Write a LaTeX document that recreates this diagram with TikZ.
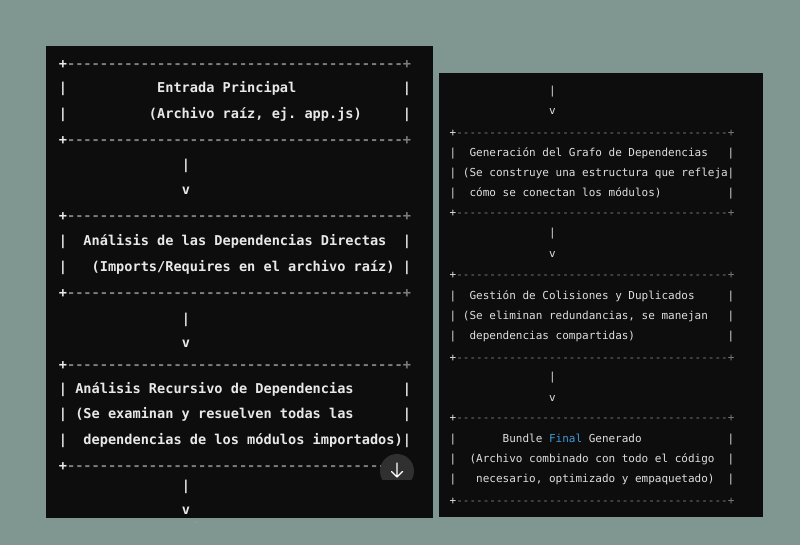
\documentclass[tikz,border=0pt]{standalone}
\usepackage{fontspec}
\setmonofont{DejaVu Sans Mono}
\definecolor{bgc}{RGB}{128,150,144}
\definecolor{panelc}{RGB}{13,13,13}
\definecolor{txtc}{RGB}{232,232,232}
\definecolor{rtxtc}{RGB}{222,222,222}
\definecolor{dashc}{RGB}{125,125,125}
\definecolor{kwc}{RGB}{62,152,214}
\definecolor{btnc}{RGB}{48,48,48}
\newcommand\dsh{-----------------------------------------}
\tikzset{
  lt/.style={anchor=base west, inner sep=0pt, outer sep=0pt, text=txtc,
    font=\ttfamily\bfseries\fontsize{13.6}{13.6}\selectfont},
  rt/.style={anchor=base west, inner sep=0pt, outer sep=0pt, text=rtxtc,
    font=\ttfamily\fontsize{11}{11}\selectfont},
}
\newcommand\Ly[1]{\ifcase#1 64\or 88\or 114\or 140\or 165\or 190\or 216\or 241\or 267\or 293\or 318\or 342\or 364\or 388\or 413\or 439\or 465\or 485\or 509\fi}
\newcommand\Ry[1]{\ifcase#1 90\or 110\or 132\or 152\or 172\or 192\or 212\or 232\or 253\or 274\or 295\or 315\or 335\or 357\or 376\or 397\or 417\or 438\or 458\or 478\or 500\fi}
\newcommand\Lrow[3]{\node[lt] (L-#1-#2) at ({58.9+8.19*#2},{\Ly{#1}+5}) {#3};}
\newcommand\Rrow[3]{\node[rt] (R-#1-#2) at ({449.7+6.62*#2},{\Ry{#1}+4.8}) {#3};}
\newcommand\Lbord[1]{\Lrow{#1}{0}{+\textcolor{dashc}{\dsh+}}}
\newcommand\Rbord[1]{\Rrow{#1}{0}{+\textcolor{dashc}{\dsh+}}}
\newcommand\Lbox[3]{\Lrow{#1}{0}{|}\Lrow{#1}{#2}{#3}\Lrow{#1}{42}{|}}
\newcommand\Rbox[3]{\Rrow{#1}{0}{|}\Rrow{#1}{#2}{#3}\Rrow{#1}{42}{|}}
\begin{document}
\begin{tikzpicture}[x=1pt,y=-1pt]
\fill[bgc] (0,0) rectangle (800,545);
\useasboundingbox (0,0) rectangle (800,545);
\fill[panelc] (46,46) rectangle (433,518);
\fill[panelc] (439,73) rectangle (763,517);
% left panel
\Lbord{0}
\Lbox{1}{12}{Entrada Principal}
\Lbox{2}{11}{(Archivo raíz, ej.\ app.js)}
\Lbord{3}
\Lrow{4}{15}{|}
\Lrow{5}{15}{v}
\Lbord{6}
\Lbox{7}{3}{Análisis de las Dependencias Directas}
\Lbox{8}{4}{(Imports/Requires en el archivo raíz)}
\Lbord{9}
\Lrow{10}{15}{|}
\Lrow{11}{15}{v}
\Lbord{12}
\Lbox{13}{2}{Análisis Recursivo de Dependencias}
\Lbox{14}{2}{(Se examinan y resuelven todas las}
\Lbox{15}{3}{dependencias de los módulos importados)}
\Lbord{16}
\Lrow{17}{15}{|}
\Lrow{18}{15}{v}
% right panel
\Rrow{0}{15}{|}
\Rrow{1}{15}{v}
\Rbord{2}
\Rbox{3}{3}{Generación del Grafo de Dependencias}
\Rbox{4}{2}{(Se construye una estructura que refleja}
\Rbox{5}{3}{cómo se conectan los módulos)}
\Rbord{6}
\Rrow{7}{15}{|}
\Rrow{8}{15}{v}
\Rbord{9}
\Rbox{10}{3}{Gestión de Colisiones y Duplicados}
\Rbox{11}{2}{(Se eliminan redundancias, se manejan}
\Rbox{12}{3}{dependencias compartidas)}
\Rbord{13}
\Rrow{14}{15}{|}
\Rrow{15}{15}{v}
\Rbord{16}
\Rbox{17}{8}{Bundle \textcolor{kwc}{Final} Generado}
\Rbox{18}{3}{(Archivo combinado con todo el código}
\Rbox{19}{4}{necesario, optimizado y empaquetado)}
\Rbord{20}
% scroll button
\begin{scope}
\clip (370,440) rectangle (430,479);
\fill[btnc] (397,471) circle (17);
\end{scope}
\draw[white, line width=1.4pt, line cap=round, line join=round]
  (397,463) -- (397,477) (391.5,471.5) -- (397,477) -- (402.5,471.5);
\fill[gray!70] (195.5,522.5) circle (0.6);
\end{tikzpicture}
\end{document}
